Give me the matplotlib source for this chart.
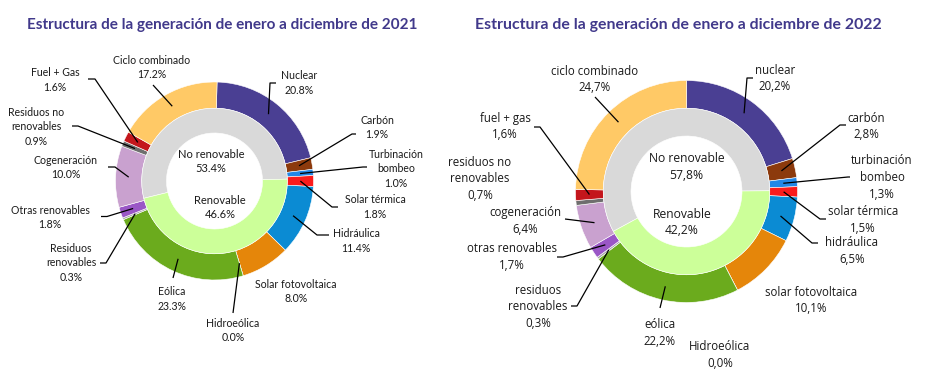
import matplotlib
matplotlib.use("Agg")
import matplotlib.pyplot as plt
import numpy as np

# ---------------- data ----------------
labels_2021 = ["Nuclear", "Carbón", "Turbinación\nbombeo", "Solar térmica", "Hidráulica",
               "Solar fotovoltaica", "Hidroeólica", "Eólica", "Residuos\nrenovables",
               "Otras renovables", "Cogeneración", "Residuos no\nrenovables", "Fuel + Gas",
               "Ciclo combinado"]
values_2021 = [20.8, 1.9, 1.0, 1.8, 11.4, 8.0, 0.0, 23.3, 0.3, 1.8, 10.0, 0.9, 1.6, 17.2]
inner_labels_2021 = ["No renovable", "Renovable"]
inner_values_2021 = [53.4, 46.6]

labels_2022 = ["nuclear", "carbón", "turbinación\nbombeo", "solar térmica", "hidráulica",
               "solar fotovoltaica", "Hidroeólica", "eólica", "residuos\nrenovables",
               "otras renovables", "cogeneración", "residuos no\nrenovables", "fuel + gas",
               "ciclo combinado"]
values_2022 = [20.2, 2.8, 1.3, 1.5, 6.5, 10.1, 0.0, 22.2, 0.3, 1.7, 6.4, 0.7, 1.6, 24.7]
inner_labels_2022 = ["No renovable", "Renovable"]
inner_values_2022 = [57.8, 42.2]

title_2021 = "Estructura de la generación de enero a diciembre de 2021"
title_2022 = "Estructura de la generación de enero a diciembre de 2022"

# ---------------- style ----------------
colors = ["#4a3f93", "#8c3a0c", "#2287e6", "#fa1c1c", "#0b8bd3", "#e5860a", "#b5d66b",
          "#6bab1d", "#a8a8a8", "#9a57c6", "#c9a1cf", "#6e6e6e", "#c4161c", "#ffc966"]
inner_colors = ["#d9d9d9", "#ccff99"]
title_color = "#41398b"

W, H = 925, 385

# layout (pixel coordinates, y measured from top)
layout = {
    2021: dict(
        center=(214.5, 181), R=99, ring=0.265, inner_out=0.735, inner_in=0.485,
        start=88.5, inner_start=1.5, title_pos=(222, 25), title_size=11.0,
        font="Lato", fsize=7.6, dec=".",
        inner_text=[(211, 161.5), (220, 207.5)],
        text_pos=[(299, 83), (377, 127.5), (396, 169), (375, 207), (356, 241),
                  (296, 291.5), (233, 330.5), (172, 299), (71, 263), (50, 217.5),
                  (66, 167.5), (36, 127), (55, 80), (152, 67.5)],
        elbow=[(270, 83, 6), (352, 134, 4), (363, 167, 4), (332, 207, 6), (317, 235, 12),
               None, (233, 313, 0), (173, 278, 0), (106, 263, -6), (107, 216.5, -6),
               (115, 167, -7), (78, 126, -6), (95, 79, -7), (153, 85, 0)],
    ),
    2022: dict(
        center=(686.5, 191.5), R=111, ring=0.25, inner_out=0.75, inner_in=0.5,
        start=90, inner_start=0.5, title_pos=(678, 25), title_size=11.4,
        font="Open Sans", fsize=8.3, dec=",",
        inner_text=[(686.5, 167), (682, 222.5)],
        text_pos=[(775, 78.3), (866, 126.7), (882, 177.5), (863, 220), (852, 251),
                  (811, 300.5), (720, 355), (660, 333), (538, 307), (512, 257),
                  (525, 221), (480, 179), (505, 126.5), (595, 79.5)],
        elbow=[(747, 78, 6), (840, 125, 6), (848, 177, 2), (820, 219, 6), (812, 243, 6),
               None, None, (660, 308, 0), (577, 306, -6), (563, 257, -6),
               (565, 219, 0), None, (540, 127, -6), (595, 97, 0)],
    ),
}

datasets = {
    2021: (labels_2021, values_2021, inner_labels_2021, inner_values_2021, title_2021),
    2022: (labels_2022, values_2022, inner_labels_2022, inner_values_2022, title_2022),
}

fig = plt.figure(figsize=(W / 100, H / 100), dpi=100)
ax = fig.add_axes([0, 0, 1, 1])


def P(x, y):
    return (x, H - y)


for year in (2021, 2022):
    labs, vals, ilabs, ivals, title = datasets[year]
    L = layout[year]
    cx, cy = P(*L["center"])
    R = L["R"]
    ax.pie(vals, radius=R, center=(cx, cy), startangle=L["start"], counterclock=False,
           colors=colors, wedgeprops=dict(width=L["ring"] * R, edgecolor="white", linewidth=0.4))
    ax.pie(ivals, radius=L["inner_out"] * R, center=(cx, cy), startangle=L["inner_start"],
           counterclock=True, colors=inner_colors,
           wedgeprops=dict(width=(L["inner_out"] - L["inner_in"]) * R, edgecolor="white",
                           linewidth=0.4))

    fmt = lambda v: f"{v:.1f}%".replace(".", L["dec"])
    total = float(sum(vals))
    cum = np.concatenate([[0], np.cumsum(vals)[:-1]])
    for i, (lab, v) in enumerate(zip(labs, vals)):
        tx, ty = P(*L["text_pos"][i])
        ax.text(tx, ty, f"{lab}\n{fmt(v)}", ha="center", va="center", fontsize=L["fsize"],
                family=L["font"], color="#1a1a1a", linespacing=1.35)
        e = L["elbow"][i]
        if e is None:
            continue
        ang = np.deg2rad(L["start"] - 360 * (cum[i] + v / 2) / total)
        r_anchor = (1 - L["ring"] / 2) * R
        axp, ayp = cx + r_anchor * np.cos(ang), cy + r_anchor * np.sin(ang)
        ex, ey = P(e[0], e[1])
        xs = [ex + e[2], ex, axp]
        ys = [ey, ey, ayp]
        ax.plot(xs, ys, color="black", lw=0.9, solid_capstyle="butt")

    for (tx0, ty0), lab, v in zip(L["inner_text"], ilabs, ivals):
        tx, ty = P(tx0, ty0)
        ax.text(tx, ty, f"{lab}\n{fmt(v)}", ha="center", va="center", fontsize=L["fsize"] + 0.4,
                family=L["font"], color="#1a1a1a", linespacing=1.35)

    tx, ty = P(*L["title_pos"])
    ax.text(tx, ty, title, ha="center", va="center", fontsize=L["title_size"],
            family="Lato", fontweight="bold", color=title_color)

ax.set_xlim(0, W)
ax.set_ylim(0, H)
ax.set_aspect("equal")
ax.axis("off")
fig.savefig("out.png", dpi=100)
